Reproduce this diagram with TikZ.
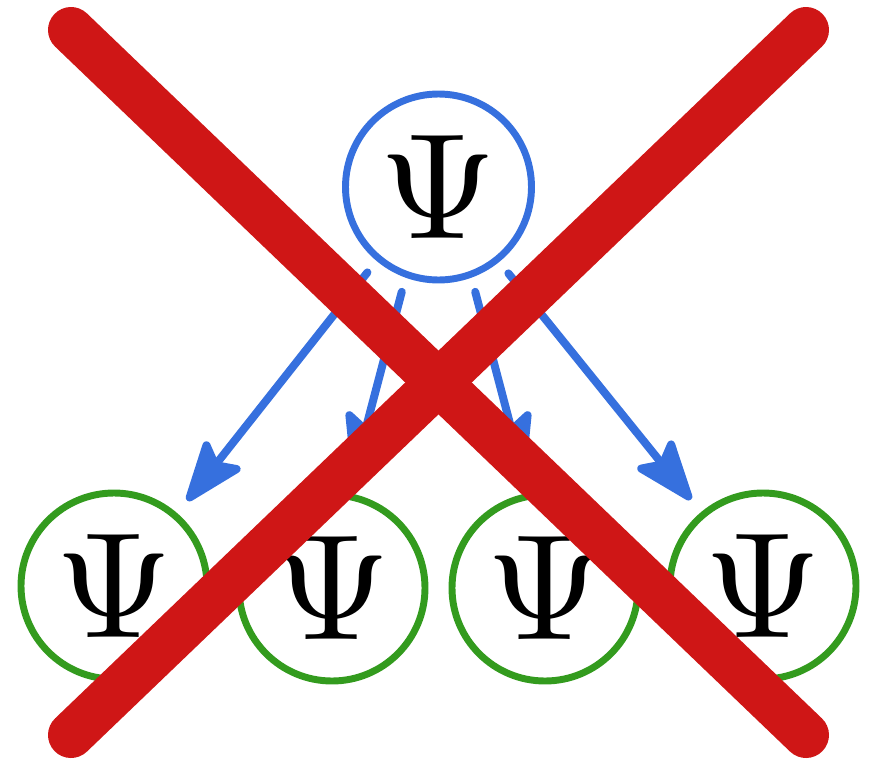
\documentclass[tikz,border=0pt]{standalone}
\usetikzlibrary{arrows.meta}
\definecolor{psiblue}{RGB}{54,112,222}
\definecolor{psigreen}{RGB}{51,155,30}
\definecolor{xred}{RGB}{207,22,22}
\newcommand{\bigpsi}{\scalebox{11.3}{$\Psi$}}
\tikzset{
  psinode/.style={circle, draw, line width=5.2pt, inner sep=0pt, minimum size=139.5pt, fill=white},
  topnode/.style={psinode, draw=psiblue},
  leafnode/.style={psinode, draw=psigreen},
  link/.style={draw=psiblue, line width=6pt, line cap=round, shorten <=11pt,
    -{Stealth[length=53pt, width=39pt, inset=10pt, round]}},
  cross/.style={draw=xred, line width=34.5pt, line cap=round}
}
\begin{document}
\begin{tikzpicture}[x=0.75pt, y=-0.75pt]
\useasboundingbox (0,0) rectangle (872,761);
\node[topnode] (top) at (438.5,187) {\bigpsi};
\node[leafnode] (b1) at (114,586) {\raisebox{-3pt}{\bigpsi}};
\node[leafnode] (b2) at (332,588) {\raisebox{-3pt}{\bigpsi}};
\node[leafnode] (b3) at (545,588) {\raisebox{-3pt}{\bigpsi}};
\node[leafnode] (b4) at (763,586) {\raisebox{-3pt}{\bigpsi}};
\draw[link, shorten >=12pt] (top.230.5) -- (b1.49.7);
\draw[link, shorten >=15pt] (top.250) -- (b2.80);
\draw[link, shorten >=15pt] (top.290) -- (b3.100);
\draw[link, shorten >=12pt] (top.309.5) -- (b4.130.3);
\coordinate (xa) at (71,30);
\coordinate (xb) at (806,735);
\coordinate (xc) at (806,30);
\coordinate (xd) at (71,735);
\draw[cross] (xa) -- (xb);
\draw[cross] (xc) -- (xd);
\end{tikzpicture}
\end{document}
